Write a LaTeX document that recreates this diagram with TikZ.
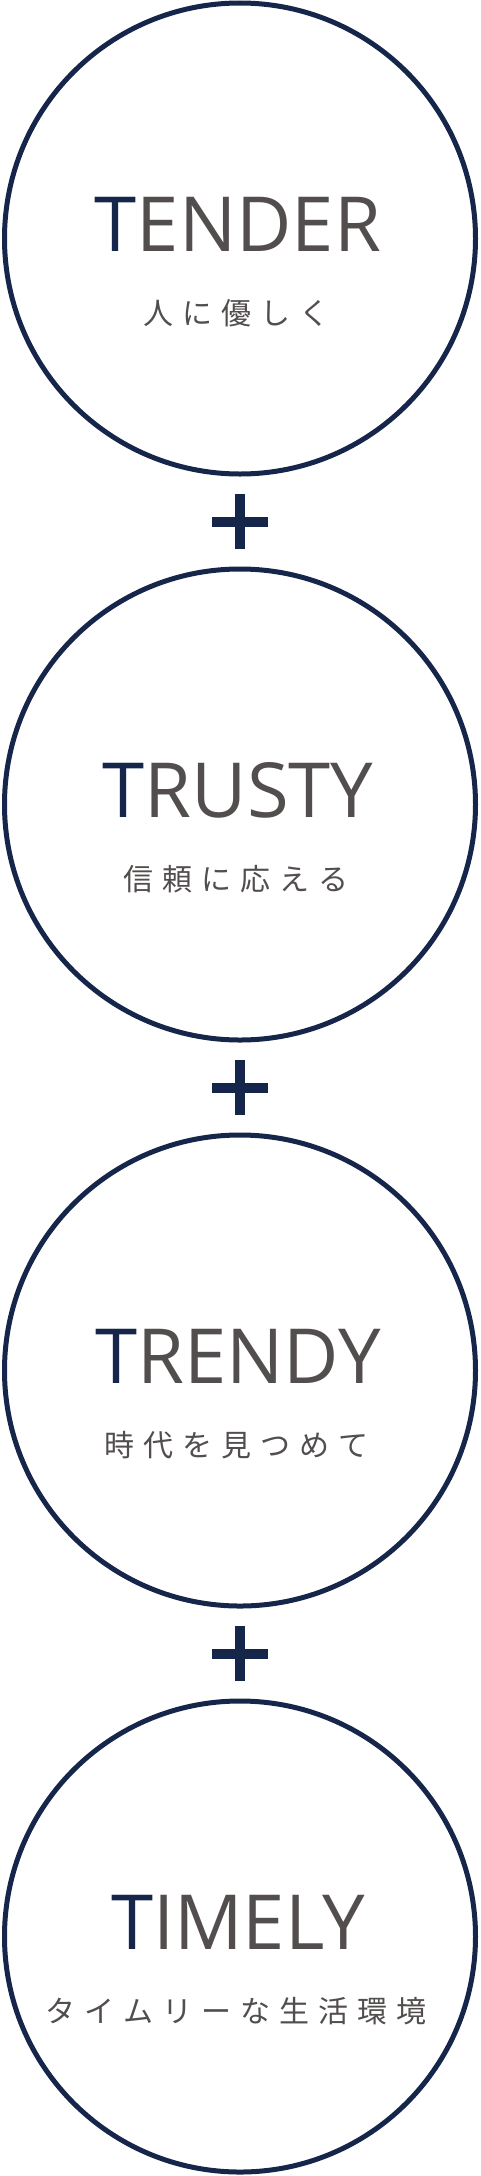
\documentclass[tikz,border=0pt]{standalone}
\usepackage{fontspec}
\setmainfont{Open Sans}
\newfontfamily\jpfont[LetterSpace=30]{Noto Sans CJK JP}
\usetikzlibrary{positioning}
\definecolor{navy}{RGB}{22,38,75}
\definecolor{ink}{RGB}{82,78,77}

\begin{document}
\begin{tikzpicture}[x=1pt, y=1pt, node distance=90pt,
    ring/.style={circle, draw=navy, line width=5pt, minimum size=471pt, inner sep=0pt},
    word/.style={anchor=base, inner sep=0pt, text=ink, font=\fontsize{76}{80}\selectfont},
    motto/.style={anchor=base, inner sep=0pt, text=ink, font=\jpfont\fontsize{30}{34}\selectfont},
    plusbar/.style={draw=navy, line width=10pt}]
    \useasboundingbox (0,0) rectangle (480,-2176);

    % the four rings
    \node[ring] (tender) at (240,-238.5) {};
    \node[ring, below=of tender] (trusty) {};
    \node[ring, below=of trusty] (trendy) {};
    \node[ring, below=of trendy] (timely) {};

    % plus signs between the rings
    \coordinate[below=45pt of tender] (plus1);
    \coordinate[below=45pt of trusty] (plus2);
    \coordinate[below=45pt of trendy] (plus3);
    \foreach \p in {plus1,plus2,plus3}
        \draw[plusbar] ([xshift=-28pt]\p) -- ([xshift=28pt]\p)
                       ([yshift=-27.5pt]\p) -- ([yshift=27.5pt]\p);

    % words
    \node[word] (tenderw) at ([xshift=-2pt,yshift=-12.5pt]tender.center) {\textcolor{navy}{T}ENDER};
    \node[word] (trustyw) at ([xshift=-2pt,yshift=-12.5pt]trusty.center) {\textcolor{navy}{T}RUSTY};
    \node[word] (trendyw) at ([xshift=-2pt,yshift=-12.5pt]trendy.center) {\textcolor{navy}{T}RENDY};
    \node[word] (timelyw) at ([xshift=-2pt,yshift=-12.5pt]timely.center) {\textcolor{navy}{T}IMELY};

    % mottos
    \node[motto] (tenderm) at ([xshift=-4pt,yshift=-86pt]tender.center) {人に優しく};
    \node[motto] (trustym) at ([xshift=-4pt,yshift=-86pt]trusty.center) {信頼に応える};
    \node[motto] (trendym) at ([xshift=-4pt,yshift=-86pt]trendy.center) {時代を見つめて};
    \node[motto] (timelym) at ([xshift=-4pt,yshift=-86pt]timely.center) {タイムリーな生活環境};
\end{tikzpicture}
\end{document}
